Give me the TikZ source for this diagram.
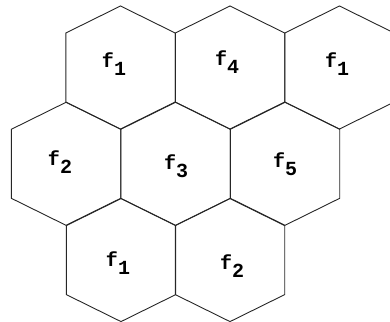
\documentclass[tikz,border=0pt]{standalone}
\usepackage{fontspec}
\newfontfamily\labfont{Liberation Mono}
\tikzset{
  cell/.style={draw=black!85, line width=0.9pt, line join=miter},
  lab/.style={inner sep=0pt, font=\labfont\bfseries\fontsize{20}{20}\selectfont}
}
\newcommand{\fsub}[1]{f\raisebox{-0.42em}{#1}}
\newcommand{\hexcell}[2]{%
  \draw[cell] (#1,#2-61.5) -- (#1+54.7,#2-34.5) -- (#1+54.7,#2+34.5) -- (#1,#2+61.5) -- (#1-54.7,#2+34.5) -- (#1-54.7,#2-34.5) -- cycle;}
\begin{document}
\begin{tikzpicture}[x=1pt,y=-1pt]
\useasboundingbox (0,0) rectangle (390,321);
\begin{scope}
\clip (0,0) rectangle (390,321);
\hexcell{120.5}{67.5}
\hexcell{230}{67.5}
\hexcell{339.5}{67.5}
\hexcell{66}{163.8}
\hexcell{175.5}{163.8}
\hexcell{285}{163.8}
\hexcell{121}{260.1}
\hexcell{230}{260.1}
\end{scope}
\node[lab] (a) at (114,64) {\fsub{1}};
\node[lab] (b) at (227,62) {\fsub{4}};
\node[lab] (c) at (337,64) {\fsub{1}};
\node[lab] (d) at (60,162) {\fsub{2}};
\node[lab] (e) at (176,166) {\fsub{3}};
\node[lab] (f) at (285,164) {\fsub{5}};
\node[lab] (g) at (118,263) {\fsub{1}};
\node[lab] (h) at (232,266) {\fsub{2}};
\end{tikzpicture}
\end{document}
